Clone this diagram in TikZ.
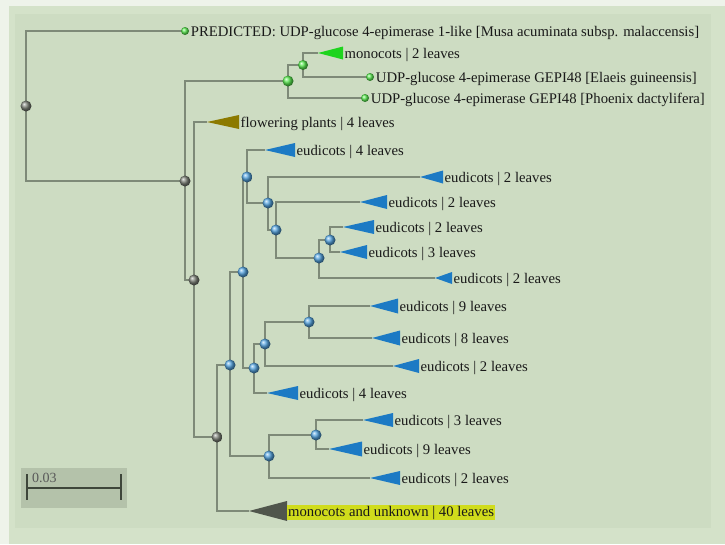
\documentclass[tikz,border=0pt]{standalone}
\usepackage{fontspec}
\setmainfont{Liberation Serif}
\usetikzlibrary{
  positioning,
  backgrounds
}
\definecolor{pagewhite}{RGB}{238,243,234}
\definecolor{pagegreen}{RGB}{212,226,201}
\definecolor{panelgreen}{RGB}{205,220,194}
\definecolor{branch}{RGB}{126,138,120}
\definecolor{knotgray}{RGB}{125,130,120}
\definecolor{knotgreen}{RGB}{90,235,80}
\definecolor{knotblue}{RGB}{85,165,225}
\definecolor{cladeblue}{RGB}{28,122,196}
\definecolor{cladegreen}{RGB}{30,212,30}
\definecolor{cladeolive}{RGB}{140,122,0}
\definecolor{cladegray}{RGB}{80,86,76}
\definecolor{hilite}{RGB}{208,220,28}
\definecolor{barbox}{RGB}{180,194,170}
\definecolor{bardark}{RGB}{62,70,58}
\tikzset{
  br/.style={draw=branch,line width=1.4pt},
  knot/.style={circle,inner sep=0pt,minimum size=11pt,shading=ball,ball color=#1},
  leafdot/.style={circle,inner sep=0pt,minimum size=8pt,shading=ball,ball color=knotgreen},
  lab/.style={anchor=west,inner sep=1.5pt,yshift=-1.5pt,font=\fontsize{14.7}{17}\selectfont,text=black!90}
}
% [label style]{name}{tip}{length}{half height}{colour}{text}
\newcommand{\clade}[7][]{%
  \coordinate (#2) at (#3);%
  \fill[#6] (#2) -- ++(#4,-#5) -- ++(0,2*#5) -- cycle;%
  \node[lab,#1] (#2-l) at ([xshift=#4pt]#2) {#7};%
}

\begin{document}
\begin{tikzpicture}[x=1pt,y=-1pt]
  \useasboundingbox (0,0) rectangle (725,544);

  % inner nodes
  \node[knot=knotgray] (root) at (26,106) {};
  \node[knot=knotgray] (n1) at (185,181) {};
  \node[knot=knotgreen] (m1) at (288,81) {};
  \node[knot=knotgreen,minimum size=10pt] (m2) at (303,65) {};
  \node[knot=knotgray] (n2) at (194,280) {};
  \node[knot=knotgray] (n3) at (217,437) {};
  \node[knot=knotblue] (e1) at (230,365) {};
  \node[knot=knotblue] (e2) at (243,272) {};
  \node[knot=knotblue] (e3) at (247,177) {};
  \node[knot=knotblue] (e4) at (268,203) {};
  \node[knot=knotblue] (e5) at (276,230) {};
  \node[knot=knotblue] (e6) at (319,258) {};
  \node[knot=knotblue] (e7) at (330,240) {};
  \node[knot=knotblue] (e8) at (254,368) {};
  \node[knot=knotblue] (e9) at (265,344) {};
  \node[knot=knotblue] (e10) at (309,322) {};
  \node[knot=knotblue] (e11) at (269,456) {};
  \node[knot=knotblue] (e12) at (316,435) {};

  % single leaves
  \node[leafdot] (musa) at (185,31) {};
  \node[lab] (musa-l) at (musa.east) {PREDICTED: UDP-glucose 4-epimerase 1-like [Musa acuminata subsp. malaccensis]};
  \node[leafdot] (elaeis) at (370,77) {};
  \node[lab] (elaeis-l) at (elaeis.east) {UDP-glucose 4-epimerase GEPI48 [Elaeis guineensis]};
  \node[leafdot] (phoenix) at (365,98) {};
  \node[lab] (phoenix-l) at (phoenix.east) {UDP-glucose 4-epimerase GEPI48 [Phoenix dactylifera]};

  % collapsed clades
  \clade{mono2}{318,53}{25}{6.5}{cladegreen}{monocots | 2 leaves}
  \clade{flower}{207,122}{32}{7}{cladeolive}{flowering plants | 4 leaves}
  \clade{eu4a}{265,150}{30}{7}{cladeblue}{eudicots | 4 leaves}
  \clade{eu2a}{420,177}{23}{6.5}{cladeblue}{eudicots | 2 leaves}
  \clade{eu2b}{360,202}{27}{7}{cladeblue}{eudicots | 2 leaves}
  \clade{eu2c}{343,227}{31}{7}{cladeblue}{eudicots | 2 leaves}
  \clade{eu3a}{340,252}{27}{7}{cladeblue}{eudicots | 3 leaves}
  \clade{eu2d}{435,278}{17}{6}{cladeblue}{eudicots | 2 leaves}
  \clade{eu9a}{370,306}{28}{7.5}{cladeblue}{eudicots | 9 leaves}
  \clade{eu8}{372,338}{28}{7.5}{cladeblue}{eudicots | 8 leaves}
  \clade{eu2e}{393,366}{26}{7}{cladeblue}{eudicots | 2 leaves}
  \clade{eu4b}{267,393}{31}{7}{cladeblue}{eudicots | 4 leaves}
  \clade{eu3b}{363,420}{30}{7}{cladeblue}{eudicots | 3 leaves}
  \clade{eu9b}{329,449}{33}{7.5}{cladeblue}{eudicots | 9 leaves}
  \clade{eu2f}{370,478}{30}{7}{cladeblue}{eudicots | 2 leaves}
  \clade[fill=hilite,inner sep=1pt]{mono40}{249,511}{38}{10}{cladegray}{monocots and unknown | 40 leaves}

  % scale bar
  \node[fill=barbox,minimum width=106pt,minimum height=40pt,inner sep=0pt] (scalebox) at (74,487.5) {};
  \draw[bardark,line width=2pt] (27,474) -- (27,500) (27,488) -- (121,488) (121,474) -- (121,500);
  \node[anchor=base west,inner sep=0pt,font=\fontsize{14}{16}\selectfont,text=black!65] (scalelab) at (32,482) {0.03};

  \begin{scope}[on background layer]
    \fill[pagewhite] (0,0) rectangle (725,544);
    \fill[pagegreen] (9,6) rectangle (725,544);
    \fill[panelgreen] (15,14) rectangle (711,528);
    % branches
    \draw[br] (root.center) |- (musa.center);
    \draw[br] (root.center) |- (n1.center);
    \draw[br] (n1.center) |- (m1.center);
    \draw[br] (n1.center) |- (n2.center);
    \draw[br] (m1.center) |- (m2.center);
    \draw[br] (m1.center) |- (phoenix.center);
    \draw[br] (m2.center) |- (mono2);
    \draw[br] (m2.center) |- (elaeis.center);
    \draw[br] (n2.center) |- (flower);
    \draw[br] (n2.center) |- (n3.center);
    \draw[br] (n3.center) |- (e1.center);
    \draw[br] (n3.center) |- (mono40);
    \draw[br] (e1.center) |- (e2.center);
    \draw[br] (e1.center) |- (e11.center);
    \draw[br] (e2.center) |- (e3.center);
    \draw[br] (e2.center) |- (e8.center);
    \draw[br] (e3.center) |- (eu4a);
    \draw[br] (e3.center) |- (e4.center);
    \draw[br] (e4.center) |- (eu2a);
    \draw[br] (e4.center) |- (e5.center);
    \draw[br] (e5.center) |- (eu2b);
    \draw[br] (e5.center) |- (e6.center);
    \draw[br] (e6.center) |- (e7.center);
    \draw[br] (e6.center) |- (eu2d);
    \draw[br] (e7.center) |- (eu2c);
    \draw[br] (e7.center) |- (eu3a);
    \draw[br] (e8.center) |- (e9.center);
    \draw[br] (e8.center) |- (eu4b);
    \draw[br] (e9.center) |- (e10.center);
    \draw[br] (e9.center) |- (eu2e);
    \draw[br] (e10.center) |- (eu9a);
    \draw[br] (e10.center) |- (eu8);
    \draw[br] (e11.center) |- (e12.center);
    \draw[br] (e11.center) |- (eu2f);
    \draw[br] (e12.center) |- (eu3b);
    \draw[br] (e12.center) |- (eu9b);
  \end{scope}
\end{tikzpicture}
\end{document}
